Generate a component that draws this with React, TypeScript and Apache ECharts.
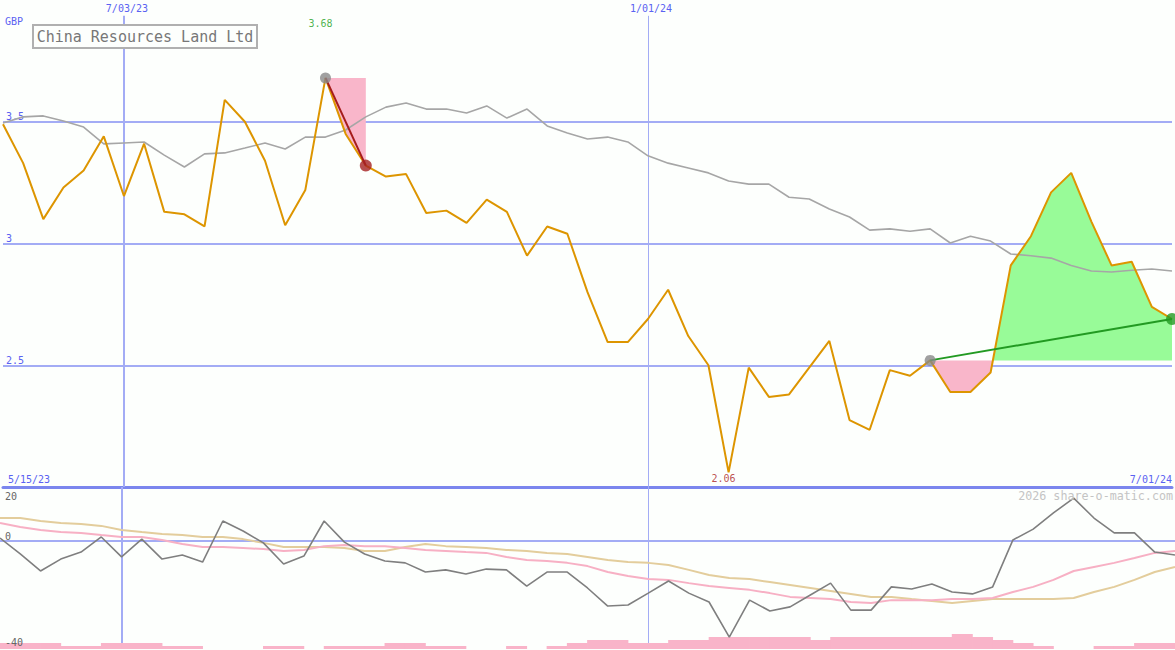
import React, { useEffect, useRef } from "react";
import * as echarts from "echarts";

// ---------- texts ----------
const TITLE = "China Resources Land Ltd";
const CURRENCY = "GBP";
const WATERMARK = "2026 share-o-matic.com";
const START_LABEL = "5/15/23";
const END_LABEL = "7/01/24";
const TOP_DATE_INDEX = [6, 32];
const TOP_DATE_TEXT = ["7/03/23", "1/01/24"];
const TOP_DATE_LINE_WIDTH = [2, 1];

// ---------- weekly data (index 0..58) ----------
const PRICE = [
  3.49, 3.33, 3.1, 3.23, 3.3, 3.44, 3.195, 3.41, 3.13, 3.12,
  3.07, 3.59, 3.5, 3.34, 3.075, 3.22, 3.68, 3.45, 3.32, 3.275,
  3.285, 3.125, 3.135, 3.085, 3.18, 3.13, 2.95, 3.07, 3.04, 2.8,
  2.595, 2.595, 2.69, 2.81, 2.62, 2.5, 2.06, 2.49, 2.37, 2.38,
  2.49, 2.6, 2.275, 2.235, 2.48, 2.457, 2.52, 2.39, 2.39, 2.47,
  2.91, 3.03, 3.21, 3.29, 3.09, 2.91, 2.925, 2.74, 2.69,
];
const PRICE_MA = [
  3.495, 3.52, 3.524, 3.503, 3.478, 3.409, 3.413, 3.417, 3.363, 3.314,
  3.368, 3.372, 3.392, 3.413, 3.388, 3.437, 3.437, 3.466, 3.52, 3.56,
  3.577, 3.552, 3.552, 3.536, 3.565, 3.515, 3.552, 3.483, 3.454, 3.429,
  3.437, 3.417, 3.36, 3.33, 3.31, 3.29, 3.257, 3.244, 3.244, 3.19,
  3.183, 3.142, 3.109, 3.055, 3.06, 3.05, 3.06, 3.002, 3.03, 3.01,
  2.957, 2.95, 2.94, 2.91, 2.887, 2.883, 2.89, 2.895, 2.887,
];
const MOMENTUM = [
  1.1, -4.8, -11.1, -6.7, -4.1, 1.5, -5.9, 0.7, -6.7, -5.2,
  -7.8, 7.4, 3.7, -0.7, -8.5, -5.6, 7.4, -0.4, -4.8, -7.4,
  -8.1, -11.5, -10.7, -12.2, -10.4, -10.7, -16.7, -11.5, -11.5, -17.4,
  -24.1, -23.7, -19.3, -14.8, -19.3, -22.6, -35.6, -21.9, -25.9, -24.4,
  -20.0, -15.6, -25.6, -25.6, -17.0, -17.8, -15.9, -18.9, -19.6, -17.0,
  0.4, 4.4, 10.4, 15.9, 8.5, 3.0, 3.0, -4.1, -5.2,
];
const MOMENTUM_FAST = [
  6.7, 5.2, 4.1, 3.3, 3.0, 2.2, 1.5, 1.5, 0.4, -1.1,
  -2.2, -2.2, -2.6, -3.0, -3.7, -3.3, -1.9, -1.5, -1.9, -1.9,
  -2.6, -3.3, -3.7, -4.1, -4.4, -5.9, -7.0, -7.4, -8.1, -9.3,
  -11.5, -13.0, -14.1, -14.4, -15.6, -16.7, -17.4, -18.1, -19.3, -20.7,
  -21.1, -21.5, -22.6, -23.0, -21.9, -21.9, -21.9, -21.5, -21.5, -21.1,
  -18.9, -17.0, -14.4, -11.1, -9.6, -8.1, -6.3, -4.4, -3.7,
];
const MOMENTUM_SLOW = [
  8.5, 8.5, 7.4, 6.7, 6.3, 5.6, 4.1, 3.3, 2.6, 2.2,
  1.5, 1.5, 0.7, -0.7, -2.2, -2.2, -2.2, -2.6, -3.7, -3.7,
  -2.2, -1.1, -1.9, -2.2, -2.6, -3.3, -3.7, -4.4, -4.8, -5.9,
  -7.0, -7.8, -8.1, -8.9, -10.7, -12.6, -13.7, -14.1, -15.2, -16.3,
  -17.4, -18.5, -19.6, -20.7, -20.7, -21.5, -22.2, -23.0, -22.2, -21.5,
  -21.5, -21.5, -21.5, -21.1, -18.9, -17.0, -14.4, -11.5, -9.6,
];
const VOLUME = [
  2, 2, 2, 1, 1, 2, 2, 2, 1, 1,
  0, 0, 0, 1, 1, 0, 1, 1, 1, 2,
  2, 1, 1, 0, 0, 1, 0, 1, 2, 3,
  3, 2, 2, 3, 3, 4, 4, 4, 4, 4,
  3, 4, 4, 4, 4, 4, 4, 5, 4, 3,
  2, 1, 0, 0, 1, 1, 2, 2, 2,
];

// ---------- annotations (indices into the weekly data) ----------
const DRAWDOWN_IDX = [16, 18];
const TREND_IDX = [46, 58];

// ---------- styles ----------
const BG = "#fdfffd";
const BLUE_TEXT = "#5a62f2";
const GRID_BLUE = "#a3acf5";
const BORDER_BLUE = "#7b86ee";
const ORANGE = "#dd9500";
const PINK_FILL = "#f9b6ca";
const GREEN_FILL = "#98fb98";
const MONO = '"DejaVu Sans Mono", "Liberation Mono", monospace';
const LAST = PRICE.length - 1;
const VLINE_TOP = 3.935;

function splitBand(start: number, end: number, base: number) {
  const out: { pts: number[][]; up: boolean }[] = [];
  let pts: number[][] = [[start, base]];
  let acc = 0;
  for (let i = start; i <= end; i++) {
    if (i > start) {
      const a = PRICE[i - 1] - base;
      const b = PRICE[i] - base;
      if (a * b < 0) {
        const xc = i - 1 + a / (a - b);
        pts.push([xc, base]);
        out.push({ pts, up: acc > 0 });
        pts = [[xc, base]];
        acc = 0;
      }
    }
    pts.push([i, PRICE[i]]);
    acc += PRICE[i] - base;
  }
  pts.push([end, base]);
  out.push({ pts, up: acc > 0 });
  return out;
}

const BANDS = [
  ...splitBand(DRAWDOWN_IDX[0], DRAWDOWN_IDX[1], PRICE[DRAWDOWN_IDX[0]]),
  ...splitBand(TREND_IDX[0], TREND_IDX[1], PRICE[TREND_IDX[0]]),
];

const idxSeries = (arr: number[]) => arr.map((v, i) => [i, v]);

function buildOption(): any {
  let minI = 0;
  PRICE.forEach((v, i) => {
    if (v < PRICE[minI]) minI = i;
  });
  let maxI = 0;
  PRICE.forEach((v, i) => {
    if (v > PRICE[maxI]) maxI = i;
  });

  const topLabelMap: Record<number, string> = {};
  TOP_DATE_INDEX.forEach((d, k) => (topLabelMap[d] = TOP_DATE_TEXT[k]));

  return {
    animation: false,
    backgroundColor: BG,
    grid: [
      { left: 0, right: 0, top: 0, height: 487 },
      { left: 0, right: 0, top: 487, height: 162 },
    ],
    xAxis: [
      {
        type: "value", gridIndex: 0, min: 0, max: LAST, position: "bottom",
        axisLine: { show: true, onZero: false, lineStyle: { color: BORDER_BLUE, width: 3 } },
        axisTick: { show: false }, axisLabel: { show: false }, splitLine: { show: false },
      },
      {
        type: "value", gridIndex: 0, min: 0, max: LAST, interval: 1, position: "top",
        axisLine: { show: false }, axisTick: { show: false }, splitLine: { show: false },
        axisLabel: {
          inside: true, margin: 3, color: BLUE_TEXT, fontSize: 10, fontFamily: MONO,
          padding: [0, 0, 0, 6],
          formatter: (v: number) => topLabelMap[v] || "",
        },
      },
      {
        type: "value", gridIndex: 1, min: 0, max: LAST,
        axisLine: { show: false }, axisTick: { show: false }, axisLabel: { show: false },
        splitLine: { show: false },
      },
    ],
    yAxis: [
      {
        type: "value", gridIndex: 0, min: 2, max: 4, interval: 0.5,
        axisLine: { show: false }, axisTick: { show: false },
        axisLabel: {
          inside: true, margin: 3, verticalAlign: "bottom", color: BLUE_TEXT,
          fontSize: 10, fontFamily: MONO,
          formatter: (v: number) => (v === 2 || v === 4 ? "" : String(v)),
        },
        splitLine: {
          show: true, showMinLine: false, showMaxLine: false,
          lineStyle: { color: GRID_BLUE, width: 2 },
        },
      },
      {
        type: "value", gridIndex: 1, min: -40, max: 20, interval: 20, z: 10,
        axisLine: { show: false }, axisTick: { show: false }, splitLine: { show: false },
        axisLabel: {
          inside: true, margin: 5, verticalAlign: "bottom", verticalAlignMaxLabel: "top",
          color: "#666666", fontSize: 10, fontFamily: MONO,
          formatter: (v: number) =>
            v === -20 ? "" : v === 20 ? "{t|20}" : v === -40 ? "{b|-40}" : String(v),
          rich: {
            t: { padding: [4, 0, 0, 0], color: "#666666", fontSize: 10, fontFamily: MONO },
            b: { padding: [0, 0, 2, 0], color: "#666666", fontSize: 10, fontFamily: MONO },
          },
        },
      },
      { type: "value", gridIndex: 1, min: 0, max: 54, show: false },
    ],
    graphic: [
      {
        type: "rect", shape: { x: 33, y: 25, width: 224, height: 23 },
        style: { fill: BG, stroke: "#b0b0b0", lineWidth: 2 }, z: 100,
      },
      {
        type: "text", x: 145, y: 37, z: 101,
        style: {
          text: TITLE, fill: "#777777", font: `15px ${MONO}`,
          textAlign: "center", textVerticalAlign: "middle",
        },
      },
      {
        type: "text", x: 5, y: 21, z: 101,
        style: { text: CURRENCY, fill: BLUE_TEXT, font: `10px ${MONO}`, textAlign: "left", textVerticalAlign: "middle" },
      },
      {
        type: "text", x: 8, y: 479, z: 101,
        style: { text: START_LABEL, fill: BLUE_TEXT, font: `10px ${MONO}`, textAlign: "left", textVerticalAlign: "middle" },
      },
      {
        type: "text", x: 1172, y: 479, z: 101,
        style: { text: END_LABEL, fill: BLUE_TEXT, font: `10px ${MONO}`, textAlign: "right", textVerticalAlign: "middle" },
      },
      {
        type: "text", x: 1173, y: 496, z: 101,
        style: { text: WATERMARK, fill: "#c4c4c4", font: `11.7px ${MONO}`, textAlign: "right", textVerticalAlign: "middle" },
      },
    ],
    series: [
      {
        type: "custom", xAxisIndex: 0, yAxisIndex: 0, z: 1, silent: true,
        data: BANDS.map((b) => b.pts[0]),
        renderItem: (params: any, api: any) => {
          const b = BANDS[params.dataIndex];
          return {
            type: "polygon",
            shape: { points: b.pts.map((p) => api.coord(p)) },
            style: { fill: b.up ? GREEN_FILL : PINK_FILL },
          };
        },
      },
      {
        type: "line", xAxisIndex: 0, yAxisIndex: 0, z: 2, silent: true,
        data: idxSeries(PRICE_MA), symbol: "none",
        lineStyle: { color: "#a6a6a6", width: 1.6 },
        markLine: {
          silent: true, symbol: ["none", "none"], z: 1, label: { show: false },
          data: TOP_DATE_INDEX.map((d, k) => [
            { coord: [d, VLINE_TOP], lineStyle: { color: GRID_BLUE, width: TOP_DATE_LINE_WIDTH[k], type: "solid" } },
            { coord: [d, 2] },
          ]),
        },
      },
      {
        type: "line", xAxisIndex: 0, yAxisIndex: 0, z: 3, silent: true,
        data: idxSeries(PRICE), symbol: "none",
        lineStyle: { color: ORANGE, width: 2 },
      },
      {
        type: "line", xAxisIndex: 0, yAxisIndex: 0, z: 4, silent: true, symbol: "none",
        data: DRAWDOWN_IDX.map((i) => [i, PRICE[i]]),
        lineStyle: { color: "#a61c1c", width: 2 },
      },
      {
        type: "line", xAxisIndex: 0, yAxisIndex: 0, z: 4, silent: true, symbol: "none",
        data: TREND_IDX.map((i) => [i, PRICE[i]]),
        lineStyle: { color: "#229a22", width: 2 },
      },
      {
        type: "scatter", xAxisIndex: 0, yAxisIndex: 0, z: 5, silent: true,
        data: [
          {
            value: [DRAWDOWN_IDX[0], PRICE[DRAWDOWN_IDX[0]]], symbolSize: 11,
            itemStyle: { color: "#888888" },
            label: {
              show: maxI === DRAWDOWN_IDX[0], position: "top", distance: 44, offset: [-5, 0],
              formatter: PRICE[maxI].toFixed(2), color: "#22a022", fontSize: 10, fontFamily: MONO,
            },
          },
          { value: [DRAWDOWN_IDX[1], PRICE[DRAWDOWN_IDX[1]]], symbolSize: 12, itemStyle: { color: "#a52222" } },
          { value: [TREND_IDX[0], PRICE[TREND_IDX[0]]], symbolSize: 11, itemStyle: { color: "#888888" } },
          { value: [TREND_IDX[1], PRICE[TREND_IDX[1]]], symbolSize: 12, itemStyle: { color: "#229a22" } },
        ],
      },
      {
        type: "scatter", xAxisIndex: 0, yAxisIndex: 0, z: 5, silent: true,
        data: [[minI, PRICE[minI]]], symbolSize: 1, itemStyle: { color: "rgba(0,0,0,0)" },
        label: {
          show: true, position: "bottom", distance: 1, offset: [-5, 0],
          formatter: PRICE[minI].toFixed(2), color: "#aa2222", fontSize: 10, fontFamily: MONO,
        },
      },
      {
        type: "bar", xAxisIndex: 2, yAxisIndex: 2, z: 1, silent: true,
        data: VOLUME.map((v, i) => [i + 0.5, v]), barWidth: 21,
        itemStyle: { color: "#f9b4c9" },
      },
      {
        type: "line", xAxisIndex: 2, yAxisIndex: 1, z: 2, silent: true,
        data: idxSeries(MOMENTUM_SLOW), symbol: "none",
        lineStyle: { color: "#e3cd9c", width: 2 },
        markLine: {
          silent: true, symbol: ["none", "none"], z: 1, label: { show: false },
          data: [
            ...TOP_DATE_INDEX.map((d, k) => ({
              xAxis: d, lineStyle: { color: GRID_BLUE, width: TOP_DATE_LINE_WIDTH[k], type: "solid" },
            })),
            { yAxis: 0, lineStyle: { color: GRID_BLUE, width: 2, type: "solid" } },
          ],
        },
      },
      {
        type: "line", xAxisIndex: 2, yAxisIndex: 1, z: 3, silent: true,
        data: idxSeries(MOMENTUM_FAST), symbol: "none",
        lineStyle: { color: "#f7b0c4", width: 2 },
      },
      {
        type: "line", xAxisIndex: 2, yAxisIndex: 1, z: 4, silent: true,
        data: idxSeries(MOMENTUM), symbol: "none",
        lineStyle: { color: "#7f7f7f", width: 1.6 },
      },
    ],
  };
}

export default function App() {
  const ref = useRef<HTMLDivElement>(null);
  useEffect(() => {
    if (!ref.current) return;
    const chart = echarts.init(ref.current, undefined, { renderer: "svg" });
    chart.setOption(buildOption());
    return () => chart.dispose();
  }, []);
  return (
    <div
      ref={ref}
      style={{ position: "fixed", left: 0, top: 0, width: 1175, height: 650, background: BG }}
    />
  );
}
